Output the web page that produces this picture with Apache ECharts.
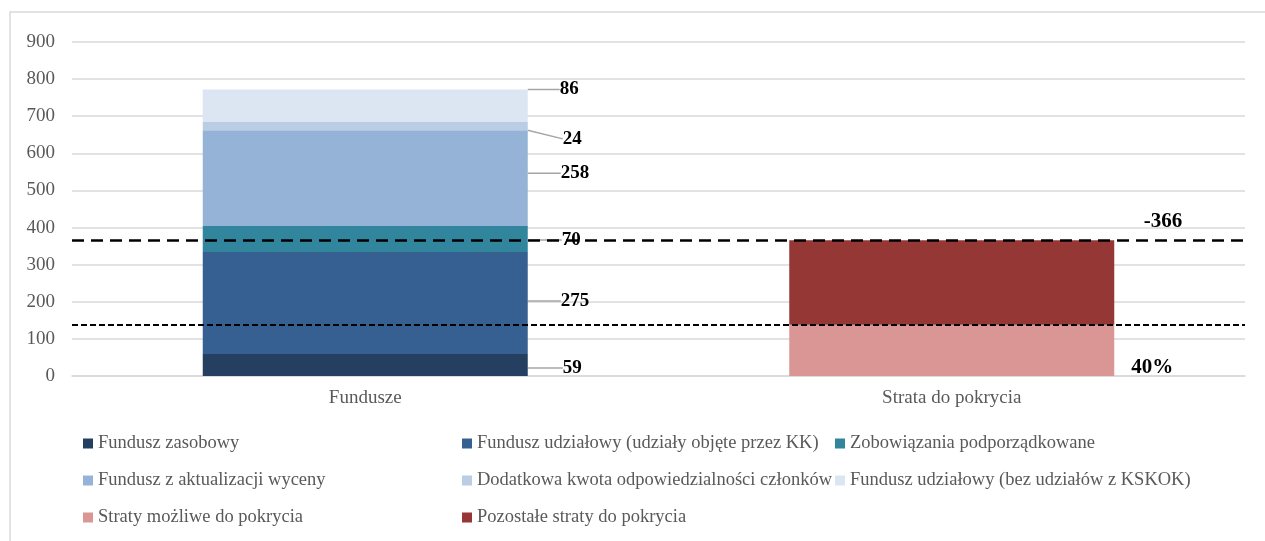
<!DOCTYPE html>
<html>
<head>
<meta charset="utf-8">
<script src="https://cdn.jsdelivr.net/npm/echarts@6/dist/echarts.min.js"></script>
<style>
  html, body { margin: 0; padding: 0; background: #fff; }
  #chart { width: 1265px; height: 541px; }
</style>
</head>
<body>
<div id="chart"></div>
<script>
// dane
const categories = ["Fundusze", "Strata do pokrycia"];
const yTicks = [0, 900, 100]; // min, max, interval

const seriesNames = [
  "Fundusz zasobowy",
  "Fundusz udziałowy (udziały objęte przez KK)",
  "Zobowiązania podporządkowane",
  "Fundusz z aktualizacji wyceny",
  "Dodatkowa kwota odpowiedzialności członków",
  "Fundusz udziałowy (bez udziałów z KSKOK)",
  "Straty możliwe do pokrycia",
  "Pozostałe straty do pokrycia"
];
const fundZasobowy = [59, null];
const fundUdzialowyKK = [275, null];
const zobowiazania = [70, null];
const fundAktualizacji = [258, null];
const dodatkowaKwota = [24, null];
const fundUdzialowyBez = [86, null];
const stratyMozliwe = [null, 138];
const pozostaleStraty = [null, 228];

const thresholdLines = [366, 138];
const lossTotalText = "-366";
const coverageText = "40%";

const serif = '"Liberation Serif", "DejaVu Serif", serif';
const colors = ["#243f60", "#366092", "#31859c", "#95b3d7", "#b9cde5", "#dce6f2", "#d99694", "#953735"];

// przesunięcia etykiet po prawej stronie słupka
const labelShift = [
  { dx: 30, dy: 3 },
  { dx: 28, dy: -2 },
  { dx: 29, dy: 1 },
  { dx: 28, dy: -5 },
  { dx: 30, dy: 13 },
  { dx: 27, dy: -16 }
];

const fundValues = [fundZasobowy, fundUdzialowyKK, zobowiazania, fundAktualizacji, dodatkowaKwota, fundUdzialowyBez];

const series = fundValues.map((vals, i) => ({
  name: seriesNames[i],
  type: "bar",
  stack: "total",
  barWidth: 325,
  data: vals,
  itemStyle: { color: colors[i] },
  label: {
    show: true,
    position: "right",
    distance: 5,
    color: "#000",
    fontFamily: serif,
    fontWeight: "bold",
    fontSize: 19
  },
  labelLayout: labelShift[i],
  labelLine: { show: true, lineStyle: { color: "#a6a6a6", width: 1.5 } }
}));

series.push({
  name: seriesNames[6],
  type: "bar",
  stack: "total",
  barWidth: 325,
  data: stratyMozliwe,
  itemStyle: { color: colors[6] },
  label: {
    show: true,
    position: "right",
    distance: 17,
    formatter: coverageText,
    color: "#000",
    fontFamily: serif,
    fontWeight: "bold",
    fontSize: 21
  },
  labelLayout: { dy: 17 }
});

series.push({
  name: seriesNames[7],
  type: "bar",
  stack: "total",
  barWidth: 325,
  data: pozostaleStraty,
  itemStyle: { color: colors[7] },
  label: {
    show: true,
    position: "insideTopRight",
    formatter: lossTotalText,
    color: "#000",
    fontFamily: serif,
    fontWeight: "bold",
    fontSize: 21
  },
  labelLayout: { dx: 73, dy: -34 },
  markLine: {
    silent: true,
    symbol: "none",
    label: { show: false },
    data: [
      { yAxis: thresholdLines[0], lineStyle: { type: [12, 7], color: "#000", width: 2.5 } },
      { yAxis: thresholdLines[1], lineStyle: { type: [6, 3], color: "#000", width: 2 } }
    ]
  }
});

const legendText = { fontFamily: serif, fontSize: 18.5, color: "#595959", lineHeight: 19 };
const legendCommon = {
  orient: "vertical",
  top: 429,
  icon: "rect",
  itemWidth: 10,
  itemHeight: 10,
  itemGap: 18,
  textStyle: legendText,
  selectedMode: false
};

const chart = echarts.init(document.getElementById("chart"));
chart.setOption({
  animation: false,
  color: colors,
  graphic: [{
    type: "rect",
    shape: { x: 10, y: 12, width: 1300, height: 600 },
    style: { fill: "none", stroke: "#d9d9d9", lineWidth: 1.5 },
    silent: true,
    z: -1
  }],
  grid: { left: 72, right: 20, top: 42, bottom: 165 },
  legend: [
    Object.assign({ left: 78, data: [seriesNames[0], seriesNames[3], seriesNames[6]] }, legendCommon),
    Object.assign({ left: 457, data: [seriesNames[1], seriesNames[4], seriesNames[7]] }, legendCommon),
    Object.assign({ left: 830, data: [seriesNames[2], seriesNames[5]] }, legendCommon)
  ],
  xAxis: {
    type: "category",
    data: categories,
    axisTick: { show: false },
    axisLine: { lineStyle: { color: "#d9d9d9", width: 1.5 } },
    axisLabel: { color: "#595959", fontFamily: serif, fontSize: 19, margin: 13 }
  },
  yAxis: {
    type: "value",
    min: yTicks[0],
    max: yTicks[1],
    interval: yTicks[2],
    axisLine: { show: false },
    axisTick: { show: false },
    splitLine: { lineStyle: { color: "#d9d9d9", width: 1.5 } },
    axisLabel: { color: "#595959", fontFamily: serif, fontSize: 19, margin: 17 }
  },
  series: series
});
</script>
</body>
</html>
